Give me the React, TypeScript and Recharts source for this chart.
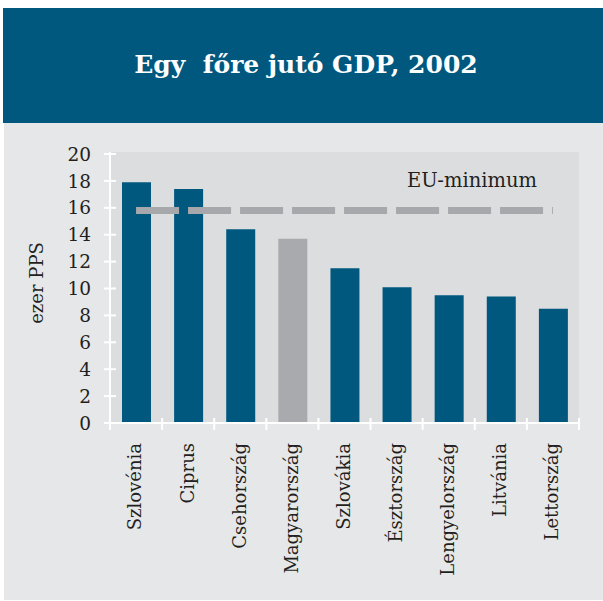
import React from "react";
import { Bar, Line, XAxis, YAxis, CartesianGrid, Cell, ComposedChart } from "recharts";

const countries = [
  "Szlovénia",
  "Ciprus",
  "Csehország",
  "Magyarország",
  "Szlovákia",
  "Észtország",
  "Lengyelország",
  "Litvánia",
  "Lettország",
];
const gdpPerCapita = [17.9, 17.4, 14.4, 13.7, 11.5, 10.1, 9.5, 9.4, 8.5];
const euMinimum = 15.8;
const yTicks = [0, 2, 4, 6, 8, 10, 12, 14, 16, 18, 20];
const highlighted = "Magyarország";

const data = countries.map((name, i) => ({
  name,
  gdp: gdpPerCapita[i],
  eu: euMinimum,
}));

const FONT = "'DejaVu Serif', serif";
const TEXT = "#231f20";
const BLUE = "#00587f";

function YTick(props: any) {
  const { x, y, payload } = props;
  return (
    <g>
      <line x1={x - 6} x2={x + 6} y1={y} y2={y} stroke="#fff" strokeWidth={2} />
      <text x={x - 19} y={y} dy="0.36em" textAnchor="end" fontFamily={FONT} fontSize={18.5} fill={TEXT}>
        {payload.value}
      </text>
    </g>
  );
}

function XTick(props: any) {
  const { x, y, payload, index } = props;
  const half = payload.offset ?? 26;
  return (
    <g>
      <line x1={x - half} x2={x - half} y1={y - 5} y2={y + 7} stroke="#fff" strokeWidth={2} />
      {index === countries.length - 1 && (
        <line x1={x + half} x2={x + half} y1={y - 5} y2={y + 7} stroke="#fff" strokeWidth={2} />
      )}
      <text
        x={x}
        y={y + 20}
        dy="0.3em"
        transform={`rotate(-90 ${x} ${y + 20})`}
        textAnchor="end"
        fontFamily={FONT}
        fontSize={18}
        fill={TEXT}
      >
        {payload.value}
      </text>
    </g>
  );
}

export default function App() {
  return (
    <div style={{ position: "absolute", left: 0, top: 0, width: 603, height: 601, background: "#fff" }}>
      <div style={{ position: "absolute", left: 3, top: 8, width: 600, height: 115, background: BLUE }} />
      <div style={{ position: "absolute", left: 4, top: 123, width: 599, height: 477, background: "#e6e7e9" }} />
      <div style={{ position: "absolute", left: 0, top: 0 }}>
        <ComposedChart
          width={603}
          height={601}
          data={data}
          margin={{ top: 152, right: 24, left: 0, bottom: 0 }}
          barCategoryGap={0}
        >
          <CartesianGrid fill="#dcdddf" stroke="none" vertical={false} horizontal={false} />
          <XAxis
            dataKey="name"
            height={178}
            axisLine={{ stroke: "#fff", strokeWidth: 2 }}
            tickLine={false}
            tickSize={0}
            tickMargin={0}
            interval={0}
            tick={<XTick />}
          />
          <YAxis
            width={110}
            domain={[0, 20.15]}
            ticks={yTicks}
            axisLine={{ stroke: "#fff", strokeWidth: 2 }}
            tickLine={false}
            tickSize={0}
            tickMargin={0}
            tick={<YTick />}
          />
          <Bar dataKey="gdp" barSize={29} isAnimationActive={false}>
            {data.map((d) => (
              <Cell key={d.name} fill={d.name === highlighted ? "#a9aaad" : BLUE} />
            ))}
          </Bar>
          <Line
            dataKey="eu"
            stroke="#a7a8ab"
            strokeWidth={7}
            strokeDasharray="43 9"
            dot={false}
            activeDot={false}
            isAnimationActive={false}
          />
        </ComposedChart>
      </div>
      <svg width={603} height={601} style={{ position: "absolute", left: 0, top: 0, pointerEvents: "none" }}>
        <text
          x={306}
          y={73}
          textAnchor="middle"
          fontFamily={FONT}
          fontWeight="bold"
          fontSize={25}
          fill="#fff"
          style={{ whiteSpace: "pre" }}
        >
          Egy  főre jutó GDP, 2002
        </text>
        <text x={472} y={187} textAnchor="middle" fontFamily={FONT} fontSize={19.5} fill={TEXT}>
          EU-minimum
        </text>
        <text
          x={37}
          y={283}
          dy="0.35em"
          transform="rotate(-90 37 283)"
          textAnchor="middle"
          fontFamily={FONT}
          fontSize={18}
          fill={TEXT}
        >
          ezer PPS
        </text>
      </svg>
    </div>
  );
}
